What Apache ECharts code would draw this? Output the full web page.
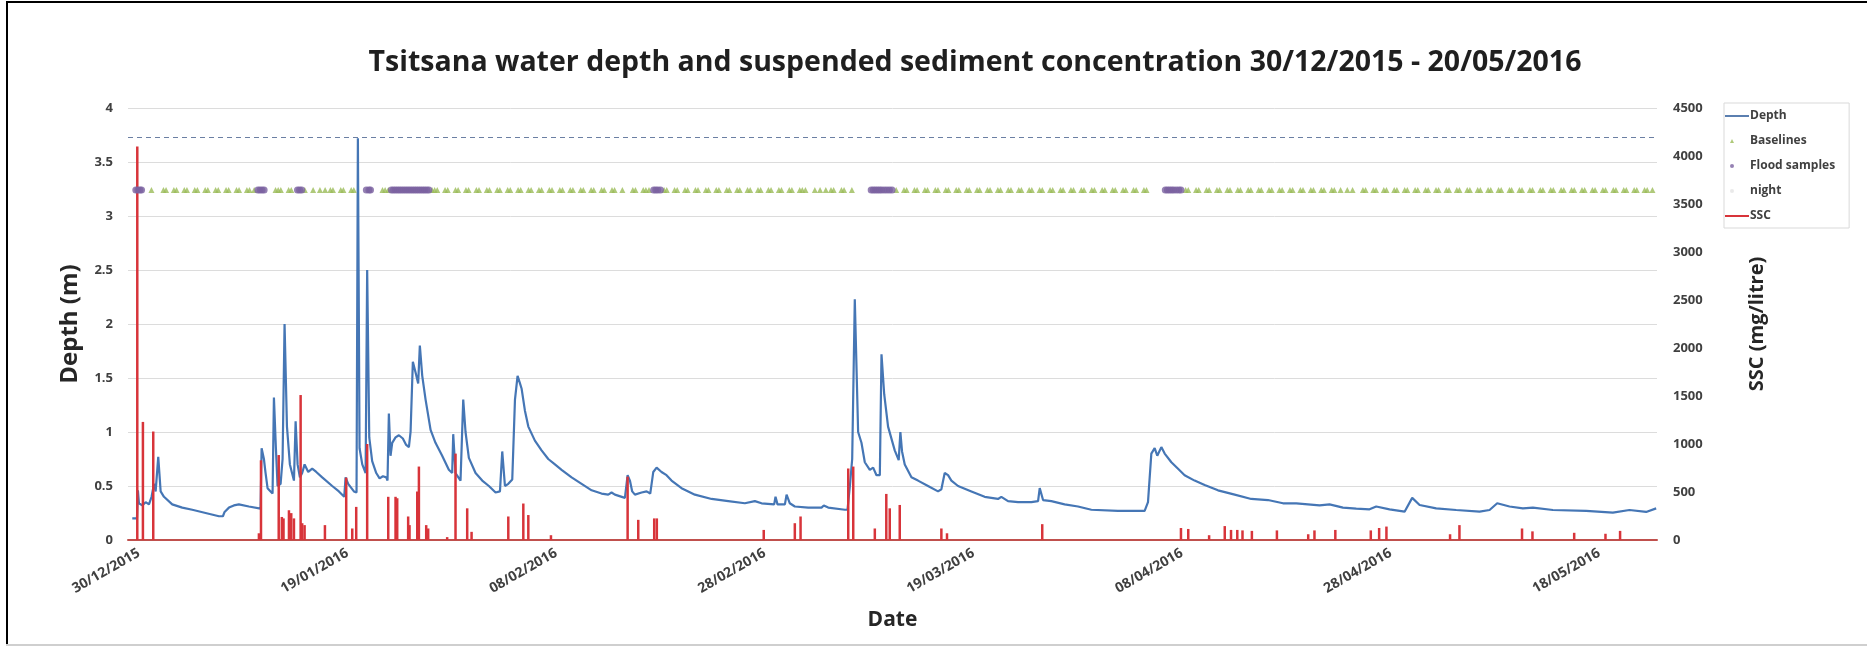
<!DOCTYPE html>
<html>
<head>
<meta charset="utf-8">
<script src="https://cdn.jsdelivr.net/npm/echarts@6/dist/echarts.min.js"></script>
<style>
  html, body { margin: 0; padding: 0; background: #ffffff; }
  #chart { width: 1867px; height: 648px; }
</style>
</head>
<body>
<div id="chart"></div>
<script>
// Days are counted from 30/12/2015 00:00.
const START = Date.UTC(2015, 11, 30);

// Date axis labels (every 20 days)
const tickLabels = ['30/12/2015', '19/01/2016', '08/02/2016', '28/02/2016',
                    '19/03/2016', '08/04/2016', '28/04/2016', '18/05/2016'];

// Water depth (m): [day, depth]
const depthReadings = [
  [-0.64,0.20],[-0.19,0.20],[-0.1,0.46],[0,0.34],[0.32,0.32],[0.64,0.35],[0.96,0.33],[1.21,0.40],
  [1.44,0.52],[1.6,0.45],[1.85,0.77],[2.08,0.45],[2.4,0.40],[3.19,0.33],[4.15,0.30],[5.11,0.28],
  [6.39,0.25],[7.67,0.22],[8.05,0.22],[8.21,0.26],[8.37,0.25],[8.63,0.30],[9.1,0.32],[9.58,0.33],
  [10.54,0.31],[11.66,0.29],[11.76,0.85],[11.98,0.75],[12.14,0.62],[12.33,0.48],[12.62,0.45],
  [12.81,0.43],[12.94,1.32],[13.13,0.85],[13.29,0.50],[13.58,0.52],[13.77,0.75],[13.96,2.0],
  [14.19,1.05],[14.47,0.70],[14.86,0.55],[15.02,1.10],[15.21,0.70],[15.43,0.58],[15.65,0.62],
  [15.88,0.70],[16.23,0.63],[16.61,0.66],[17.0,0.63],[17.57,0.58],[18.53,0.50],[19.17,0.45],
  [19.68,0.40],[19.81,0.58],[20.06,0.52],[20.61,0.45],[20.86,0.44],[20.99,3.72],[21.15,0.85],
  [21.41,0.70],[21.73,0.62],[21.88,2.5],[22.08,0.95],[22.36,0.73],[22.75,0.62],[23.07,0.57],
  [23.39,0.59],[23.71,0.58],[23.83,0.55],[23.96,1.17],[24.12,0.78],[24.28,0.90],[24.6,0.95],
  [24.92,0.97],[25.3,0.94],[25.62,0.88],[25.88,0.86],[26.04,1.0],[26.26,1.65],[26.52,1.55],
  [26.77,1.45],[26.93,1.80],[27.16,1.52],[27.48,1.30],[27.96,1.02],[28.43,0.90],[29.07,0.78],
  [29.71,0.65],[30.03,0.62],[30.13,0.98],[30.35,0.62],[30.83,0.55],[31.09,1.30],[31.31,1.0],
  [31.63,0.76],[32.27,0.62],[32.91,0.55],[33.55,0.50],[34.19,0.44],[34.61,0.45],[34.83,0.82],
  [35.09,0.50],[35.41,0.52],[35.79,0.56],[36.05,1.30],[36.3,1.52],[36.53,1.45],[36.69,1.40],
  [37.0,1.20],[37.33,1.05],[37.96,0.92],[38.6,0.83],[39.24,0.75],[39.88,0.70],[40.52,0.65],
  [41.48,0.58],[42.44,0.52],[43.4,0.46],[44.35,0.43],[44.99,0.42],[45.31,0.44],[45.63,0.42],
  [46.59,0.39],[46.85,0.60],[47.07,0.55],[47.29,0.45],[47.55,0.42],[48.19,0.44],[48.67,0.45],
  [49.02,0.43],[49.31,0.63],[49.63,0.67],[50.1,0.63],[50.58,0.60],[51.06,0.55],[52.02,0.48],
  [53.3,0.42],[54.9,0.38],[56.5,0.36],[58.09,0.34],[59.05,0.36],[59.69,0.34],[60.9,0.33],
  [61.03,0.40],[61.22,0.33],[61.93,0.33],[62.09,0.42],[62.4,0.34],[62.88,0.31],[64.16,0.30],
  [65.44,0.30],[65.66,0.32],[66.08,0.30],[67.68,0.28],[67.93,0.28],[68.16,0.50],[68.38,0.75],
  [68.63,2.23],[68.95,1.0],[69.27,0.90],[69.59,0.72],[70.07,0.65],[70.39,0.67],[70.71,0.60],
  [71.03,0.60],[71.19,1.72],[71.45,1.35],[71.82,1.05],[72.46,0.83],[72.84,0.74],[73.0,1.0],
  [73.16,0.82],[73.42,0.70],[74.06,0.58],[74.69,0.55],[75.65,0.50],[76.61,0.45],[76.93,0.47],
  [77.25,0.62],[77.57,0.60],[77.89,0.55],[78.53,0.50],[79.81,0.45],[81.08,0.40],[82.36,0.38],
  [82.68,0.40],[83.32,0.36],[84.28,0.35],[85.56,0.35],[86.2,0.36],[86.36,0.48],[86.68,0.37],
  [87.47,0.36],[88.75,0.33],[90.03,0.31],[91.31,0.28],[93.86,0.27],[96.42,0.27],[96.74,0.35],
  [97.06,0.80],[97.38,0.85],[97.63,0.78],[98.02,0.86],[98.34,0.80],[98.98,0.72],[99.62,0.66],
  [100.25,0.60],[101.21,0.55],[102.17,0.51],[103.45,0.46],[105.05,0.42],[106.64,0.38],
  [108.24,0.37],[109.68,0.34],[110.96,0.34],[113.19,0.32],[114.15,0.33],[115.43,0.30],
  [116.71,0.29],[117.98,0.284],[118.62,0.31],[119.9,0.284],[121.34,0.262],[122.07,0.39],
  [122.78,0.324],[124.37,0.293],[126.29,0.278],[128.53,0.262],[129.49,0.278],[130.22,0.34],
  [131.4,0.31],[132.68,0.293],[133.64,0.30],[135.56,0.278],[138.75,0.27],[141.31,0.253],
  [142.9,0.278],[144.5,0.26],[145.46,0.293]
];

// Suspended sediment concentration (mg/litre): [day, SSC]
const sscReadings = [
  [-0.16,4100],[0.38,1230],[1.37,1130],[11.5,70],[11.7,830],[13.4,885],[13.7,240],[13.86,225],
  [14.38,310],[14.6,280],[14.86,225],[15.5,1510],[15.65,175],[15.88,155],[17.83,155],[19.87,650],
  [20.45,120],[20.83,345],[21.88,1000],[23.9,450],[24.6,450],[24.76,435],[25.81,245],[25.94,155],
  [26.68,505],[26.84,765],[27.54,155],[27.73,120],[29.55,30],[30.35,900],[31.47,330],[31.89,85],
  [35.41,245],[36.85,380],[37.33,260],[39.5,50],[46.85,660],[47.87,210],[49.4,225],[49.65,225],
  [59.9,105],[62.88,175],[63.43,245],[68.0,745],[68.48,765],[70.55,120],[71.65,480],[71.98,330],
  [72.94,365],[76.93,120],[77.47,70],[86.6,165],[99.9,125],[100.6,115],[102.6,50],[104.1,145],
  [104.7,105],[105.3,105],[105.8,100],[106.7,95],[109.1,100],[112.1,60],[112.7,100],[114.7,105],
  [118.1,100],[118.9,125],[119.6,140],[125.7,60],[126.6,155],[132.6,120],[133.6,90],[137.6,75],
  [140.6,65],[142.0,95]
];

// Baseline sampling times (day)
const baselineDays = [
  1.2,2.35,2.6,3.35,3.6,4.35,4.6,5.35,5.6,6.35,6.6,7.35,7.6,8.35,8.6,9.35,9.6,10.35,10.6,11.05,
  13.1,13.35,13.6,14.35,14.6,15.9,16.7,17.35,17.85,18.35,18.6,19.35,19.6,20.35,20.6,
  23.35,23.6,23.9,
  28.1,28.35,28.6,29.35,29.6,30.35,30.6,31.35,31.6,32.35,32.6,33.35,33.6,34.35,34.6,35.35,35.6,
  36.35,36.6,37.35,37.6,38.35,38.6,39.35,39.6,40.35,40.6,41.35,41.6,42.35,42.6,43.35,43.6,
  44.35,44.6,45.35,45.6,46.35,47.35,47.6,48.35,48.6,48.9,
  50.35,50.6,51.35,51.6,52.35,52.6,53.35,53.6,54.35,54.6,55.35,55.6,56.35,56.6,57.35,57.6,
  58.35,58.6,59.35,59.6,60.35,60.6,61.35,61.6,62.35,62.6,63.35,63.6,63.9,
  64.8,65.3,65.85,66.35,66.6,67.35,67.6,68.35,
  72.6,73.35,73.6,74.35,74.6,75.35,75.6,76.35,76.6,77.35,77.6,78.35,78.6,79.35,79.6,80.35,80.6,
  81.35,81.6,82.35,82.6,83.35,83.6,84.35,84.6,85.35,85.6,86.35,86.6,87.35,87.6,88.35,88.6,
  89.35,89.6,90.35,90.6,91.35,91.6,92.35,92.6,93.35,93.6,94.35,94.6,95.35,95.6,96.35,96.6,
  100.35,100.6,101.35,101.6,102.35,102.6,103.35,103.6,104.35,104.6,105.35,105.6,106.35,106.6,
  107.35,107.6,108.35,108.6,109.35,109.6,
  110.35,110.6,111.35,111.6,112.35,112.6,113.35,113.6,114.35,114.6,115.2,115.85,116.35,
  117.35,117.6,118.35,118.6,119.35,119.6,120.35,120.6,121.35,121.6,122.35,122.6,123.35,123.6,
  124.35,124.6,125.35,125.6,126.35,126.6,127.35,127.6,128.35,128.6,129.35,129.6,130.35,130.6,
  131.4,131.6,132.35,132.6,133.35,133.6,134.35,134.6,135.35,135.6,136.35,136.6,137.35,137.6,
  138.35,138.6,139.35,139.6,140.35,140.6,141.35,141.6,142.35,142.6,143.35,143.6,144.35,144.6,145.1
];

// Flood sampling times (day)
const floodDays = [
  -0.3,-0.1,0.1,0.25,
  11.4,11.6,11.8,12.0,
  15.2,15.4,15.6,
  21.8,22.05,22.2,
  24.2,24.4,24.6,24.8,25.0,25.2,25.4,25.6,25.8,26.0,26.2,26.4,26.6,26.8,27.0,27.2,27.4,27.6,27.8,
  49.35,49.55,49.75,50.0,
  70.2,70.4,70.6,70.8,71.0,71.2,71.45,71.7,71.95,72.2,
  98.4,98.6,98.8,99.0,99.2,99.45,99.7,99.9
];

// Night sampling times (day) - none recorded in this period
const nightDays = [];

// Level (m) at which the sample markers are plotted, and the upper reference line
const SAMPLE_ROW = 3.24;
const REFERENCE_DEPTH = 3.73;

function toDay(label) {
  const [d, m, y] = label.split('/').map(Number);
  return (Date.UTC(y, m - 1, d) - START) / 86400000;
}
function fmtDay(v) {
  const dt = new Date(START + Math.round(v) * 86400000);
  const p = n => String(n).padStart(2, '0');
  return p(dt.getUTCDate()) + '/' + p(dt.getUTCMonth() + 1) + '/' + dt.getUTCFullYear();
}
const tickDays = tickLabels.map(toDay);

const FONT = '"Open Sans", "DejaVu Sans", sans-serif';
const TXT = '#404040';

// Small legend glyphs: the two leading moves fix the icon box so the shape stays small
const ICON_LINE = 'path://M0,0M24,12M0,5L24,5L24,7L0,7Z';
const ICON_TRI = 'path://M0,0M24,12M5,8L7,4L9,8Z';
const ICON_DOT = 'path://M0,0M24,12M5,6a2,2 0 1,0 4,0a2,2 0 1,0 -4,0Z';

const chart = echarts.init(document.getElementById('chart'), null, { renderer: 'canvas' });

chart.setOption({
  backgroundColor: '#ffffff',
  animation: false,
  title: {
    text: 'Tsitsana water depth and suspended sediment concentration 30/12/2015 - 20/05/2016',
    left: 970,
    top: 43,
    textAlign: 'center',
    textStyle: { fontFamily: FONT, fontSize: 28.5, fontWeight: 'bold', color: '#1f1f1f' }
  },
  graphic: [
    { type: 'line', shape: { x1: 7, y1: 1, x2: 7, y2: 646 }, style: { stroke: '#000', lineWidth: 2 } },
    { type: 'line', shape: { x1: 6, y1: 2, x2: 1867, y2: 2 }, style: { stroke: '#000', lineWidth: 2 } },
    { type: 'line', shape: { x1: 6, y1: 645, x2: 1867, y2: 645 }, style: { stroke: '#cfcfcf', lineWidth: 2 } }
  ],
  legend: {
    orient: 'vertical',
    left: 1724,
    top: 103,
    padding: [7, 14, 6, 1],
    itemWidth: 24,
    itemHeight: 12,
    itemGap: 13,
    borderColor: '#d9d9d9',
    borderWidth: 1,
    textStyle: { fontFamily: FONT, fontSize: 12, fontWeight: 'bold', color: TXT, padding: [0, 0, 0, -4] },
    data: [
      { name: 'Depth', icon: ICON_LINE },
      { name: 'Baselines', icon: ICON_TRI },
      { name: 'Flood samples', icon: ICON_DOT },
      { name: 'night', icon: ICON_DOT },
      { name: 'SSC', icon: ICON_LINE }
    ]
  },
  grid: { left: 128, right: 210, top: 108, bottom: 108, containLabel: false },
  xAxis: {
    type: 'value',
    min: -1.05,
    max: 145.54,
    name: 'Date',
    nameLocation: 'middle',
    nameGap: 70,
    nameTextStyle: { fontFamily: FONT, fontSize: 21, fontWeight: 'bold', color: '#262626' },
    axisLine: { show: true, onZero: false, lineStyle: { color: '#c0504d', width: 2 } },
    axisTick: { show: false, customValues: tickDays },
    splitLine: { show: false },
    axisLabel: {
      customValues: tickDays,
      rotate: 30,
      margin: 12,
      formatter: fmtDay,
      fontFamily: FONT, fontSize: 14, fontWeight: 'bold', color: TXT
    }
  },
  yAxis: [
    {
      type: 'value',
      min: 0, max: 4, interval: 0.5,
      name: 'Depth (m)',
      nameLocation: 'middle',
      nameGap: 46,
      nameTextStyle: { fontFamily: FONT, fontSize: 24, fontWeight: 'bold', color: '#262626' },
      axisLine: { show: false },
      axisTick: { show: false },
      axisLabel: { margin: 15, fontFamily: FONT, fontSize: 13, fontWeight: 'bold', color: TXT },
      splitLine: { lineStyle: { color: '#dcdcdc', width: 1 } }
    },
    {
      type: 'value',
      min: 0, max: 4500, interval: 500,
      name: 'SSC (mg/litre)',
      nameLocation: 'middle',
      nameGap: 90,
      nameTextStyle: { fontFamily: FONT, fontSize: 20, fontWeight: 'bold', color: '#262626' },
      axisLine: { show: false },
      axisTick: { show: false },
      axisLabel: { margin: 16, formatter: v => String(v), fontFamily: FONT, fontSize: 13, fontWeight: 'bold', color: TXT },
      splitLine: { show: false }
    }
  ],
  series: [
    {
      name: 'Depth',
      type: 'line',
      yAxisIndex: 0,
      data: depthReadings,
      showSymbol: false,
      symbol: 'none',
      color: '#5b7fb0',
      lineStyle: { color: '#4576b5', width: 2.2 },
      z: 3,
      markLine: {
        silent: true,
        symbol: 'none',
        label: { show: false },
        lineStyle: { color: '#6b7fa3', type: [5, 4], width: 1 },
        data: [{ yAxis: REFERENCE_DEPTH }]
      }
    },
    {
      name: 'SSC',
      type: 'bar',
      yAxisIndex: 1,
      data: sscReadings,
      barWidth: 2.5,
      color: '#b8434a',
      itemStyle: { color: '#d8343a' },
      z: 4
    },
    {
      name: 'Baselines',
      type: 'scatter',
      yAxisIndex: 0,
      data: baselineDays.map(d => [d, SAMPLE_ROW]),
      symbol: 'triangle',
      symbolSize: 6,
      color: '#b9cf86',
      itemStyle: { color: '#9bbb59' },
      z: 5
    },
    {
      name: 'Flood samples',
      type: 'scatter',
      yAxisIndex: 0,
      data: floodDays.map(d => [d, SAMPLE_ROW]),
      symbol: 'circle',
      symbolSize: 7,
      color: '#5a4d7a',
      itemStyle: { color: '#7a62a0' },
      z: 6
    },
    {
      name: 'night',
      type: 'scatter',
      yAxisIndex: 0,
      data: nightDays.map(d => [d, SAMPLE_ROW]),
      symbolSize: 6,
      color: '#e4e4e4',
      itemStyle: { color: '#e4e4e4' }
    }
  ]
});
</script>
</body>
</html>
